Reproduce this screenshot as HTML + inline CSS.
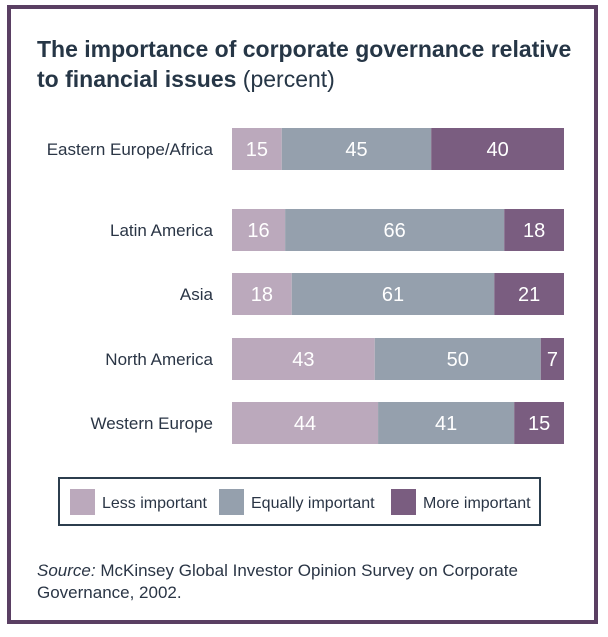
<!DOCTYPE html>
<html><head><meta charset="utf-8"><style>
body{margin:0;width:608px;height:637px;background:#fff;font-family:"Liberation Sans",sans-serif;overflow:hidden}
#frame{position:absolute;left:7px;top:5px;width:583px;height:611px;border:4px solid #5a3f63}
</style></head><body>
<div id="frame"></div>
<svg width="608" height="637" style="position:absolute;left:0;top:0">
<text x="37" y="57" font-size="23" font-weight="bold" fill="#263646">The importance of corporate governance relative</text>
<text x="37" y="87" font-size="23" fill="#263646"><tspan font-weight="bold">to financial issues</tspan> (percent)</text>
<g id="bars"></g>
<rect x="59" y="478" width="481" height="47" fill="none" stroke="#2c3e4e" stroke-width="2"/>
<g id="legend"></g>
<text x="37" y="576" font-size="17" fill="#2a3545"><tspan font-style="italic">Source:</tspan> McKinsey Global Investor Opinion Survey on Corporate</text>
<text x="37" y="598" font-size="17" fill="#2a3545">Governance, 2002.</text>
</svg>
<script>
const categories=["Eastern Europe/Africa","Latin America","Asia","North America","Western Europe"];
const lessImportant=[15,16,18,43,44];
const equallyImportant=[45,66,61,50,41];
const moreImportant=[40,18,21,7,15];
const seriesNames=["Less important","Equally important","More important"];
const colors=["#bba9bc","#95a0ad","#7a5d80"];
const rowTops=[128,209,273,338,402];
const NS="http://www.w3.org/2000/svg";
const x0=232,x1=564,bh=42;
const g=document.getElementById('bars');
function mk(t,a){const e=document.createElementNS(NS,t);for(const k in a)e.setAttribute(k,a[k]);return e;}
const series=[lessImportant,equallyImportant,moreImportant];
categories.forEach((c,i)=>{
  const y=rowTops[i];
  const lab=mk('text',{x:213,y:y+bh/2+6,'font-size':17,'text-anchor':'end',fill:'#2a3545'});
  lab.textContent=c;
  
  
  g.appendChild(lab);
  const tot=series.reduce((s,a)=>s+a[i],0);
  let cx=x0;
  series.forEach((arr,j)=>{
    const w=arr[i]/tot*(x1-x0);
    const r=mk('rect',{x:cx,y:y,width:w,height:bh,fill:colors[j]});
    
    
    g.appendChild(r);
    const t=mk('text',{x:cx+w/2,y:y+bh/2+7,'font-size':20,'text-anchor':'middle',fill:'#fff'});
    t.textContent=arr[i];
    
    
    g.appendChild(t);
    cx+=w;
  });
});
const lg=document.getElementById('legend');
const lx=[70,219,391];
seriesNames.forEach((n,j)=>{
  const r=mk('rect',{x:lx[j],y:489,width:25,height:26,fill:colors[j]});
  
  
  lg.appendChild(r);
  const t=mk('text',{x:lx[j]+32,y:508,'font-size':16,fill:'#2a3545'});
  t.textContent=n;
  
  
  lg.appendChild(t);
});
</script>
</body></html>
